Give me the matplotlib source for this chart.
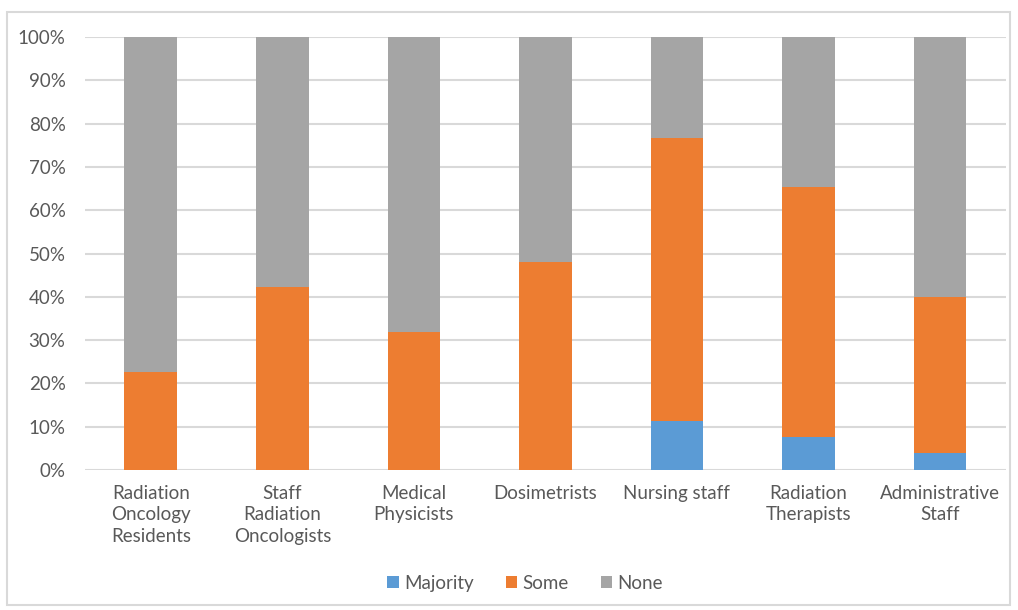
import matplotlib.pyplot as plt
import numpy as np
from matplotlib.patches import Rectangle

# --- Data (percent of respondents) ---
groups = [
    "Radiation\nOncology\nResidents",
    "Staff\nRadiation\nOncologists",
    "Medical\nPhysicists",
    "Dosimetrists",
    "Nursing staff",
    "Radiation\nTherapists",
    "Administrative\nStaff",
]
majority = [0.0, 0.0, 0.0, 0.0, 11.3, 7.6, 3.9]
some = [22.6, 42.2, 31.8, 48.0, 65.5, 57.7, 36.1]
none = [100 - m - s for m, s in zip(majority, some)]

colors = {"Majority": "#5B9BD5", "Some": "#ED7D31", "None": "#A5A5A5"}
text_color = "#595959"
grid_color = "#D9D9D9"

plt.rcParams["font.family"] = ["Lato", "DejaVu Sans"]

fig = plt.figure(figsize=(10.18, 6.10), dpi=100)
ax = fig.add_axes([0.0835, 0.2295, 0.9045, 0.7095])

x = np.arange(len(groups))
w = 0.4
ax.bar(x, majority, w, color=colors["Majority"], label="Majority", zorder=3)
ax.bar(x, some, w, bottom=majority, color=colors["Some"], label="Some", zorder=3)
bottom2 = np.array(majority) + np.array(some)
ax.bar(x, none, w, bottom=bottom2, color=colors["None"], label="None", zorder=3)

ax.set_xlim(-0.5, len(groups) - 0.5)
ax.set_ylim(0, 100)
ax.set_yticks(np.arange(0, 101, 10))
ax.set_yticklabels([f"{v}%" for v in range(0, 101, 10)])
ax.set_xticks(x)
ax.set_xticklabels(groups, linespacing=1.3)

ax.yaxis.grid(True, color=grid_color, linewidth=1.5, zorder=0)
for s in ax.spines.values():
    s.set_visible(False)
ax.tick_params(axis="both", length=0, colors=text_color, labelsize=13.5)
ax.tick_params(axis="y", pad=14)
ax.tick_params(axis="x", pad=11)

leg = fig.legend(
    loc="center",
    bbox_to_anchor=(0.516, 0.044),
    ncol=3,
    frameon=False,
    fontsize=13.5,
    handlelength=0.6,
    handleheight=0.6,
    handletextpad=0.3,
    columnspacing=1.7,
)
for t in leg.get_texts():
    t.set_color(text_color)

# chart area border
fig.patches.append(
    Rectangle((7 / 1018, 5 / 610), 1003 / 1018, 593 / 610,
              transform=fig.transFigure, fill=False,
              edgecolor="#D9D9D9", linewidth=1.5)
)

fig.savefig("out.png", dpi=100)
